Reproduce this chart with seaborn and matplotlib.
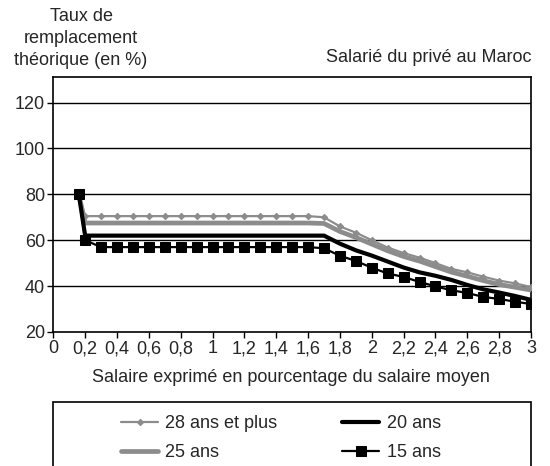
import matplotlib
matplotlib.use("Agg")
import matplotlib.pyplot as plt
import seaborn as sns
import pandas as pd
from matplotlib.patches import Rectangle
from matplotlib.ticker import FixedLocator

x_vals = [0.16, 0.2, 0.3, 0.4, 0.5, 0.6, 0.7, 0.8, 0.9, 1.0, 1.1, 1.2, 1.3, 1.4, 1.5,
          1.6, 1.7, 1.8, 1.9, 2.0, 2.1, 2.2, 2.3, 2.4, 2.5, 2.6, 2.7, 2.8, 2.9, 3.0]

ans28 = [80, 70.5, 70.5, 70.5, 70.5, 70.5, 70.5, 70.5, 70.5, 70.5, 70.5, 70.5, 70.5, 70.5, 70.5,
         70.5, 70.0, 66.0, 63.3, 60.0, 56.8, 54.4, 52.4, 50.0, 47.5, 46.0, 44.1, 42.4, 41.2, 39.6]
ans25 = [80, 67.5, 67.5, 67.5, 67.5, 67.5, 67.5, 67.5, 67.5, 67.5, 67.5, 67.5, 67.5, 67.5, 67.5,
         67.5, 67.3, 63.8, 61.2, 58.3, 55.4, 52.9, 50.9, 48.5, 46.1, 44.3, 42.4, 40.7, 39.5, 38.3]
ans20 = [80, 62.0, 62.0, 62.0, 62.0, 62.0, 62.0, 62.0, 62.0, 62.0, 62.0, 62.0, 62.0, 62.0, 62.0,
         62.0, 62.0, 58.5, 55.6, 53.3, 50.7, 48.1, 46.0, 44.5, 42.7, 40.5, 38.6, 37.2, 35.7, 34.0]
ans15 = [80, 60.0, 57.0, 57.0, 57.0, 57.0, 57.0, 57.0, 57.0, 57.0, 57.0, 57.0, 57.0, 57.0, 57.0,
         57.0, 56.5, 53.2, 51.0, 48.0, 45.5, 44.0, 41.8, 39.9, 38.2, 37.0, 35.3, 34.4, 33.2, 32.2]

labels = ["28 ans et plus", "25 ans", "20 ans", "15 ans"]
x_ticks = [0, 0.2, 0.4, 0.6, 0.8, 1, 1.2, 1.4, 1.6, 1.8, 2, 2.2, 2.4, 2.6, 2.8, 3]
x_tick_labels = ["0", "0,2", "0,4", "0,6", "0,8", "1", "1,2", "1,4", "1,6", "1,8",
                 "2", "2,2", "2,4", "2,6", "2,8", "3"]
y_ticks = [20, 40, 60, 80, 100, 120]

sns.set_theme(style="white")
plt.rcParams['font.family'] = ['Liberation Sans', 'DejaVu Sans']
FS = 13

fig = plt.figure(figsize=(5.5, 4.66), dpi=100)
ax = fig.add_axes([53.3 / 550, 1 - 332 / 466, (531 - 53.3) / 550, (332 - 77.3) / 466])

styles = [
    dict(color="#8c8c8c", lw=1.6, marker="D", ms=3.2, mec="#8c8c8c", mfc="#8c8c8c"),
    dict(color="#8c8c8c", lw=3.4, marker=None),
    dict(color="#000000", lw=3.0, marker=None),
    dict(color="#000000", lw=1.6, marker="s", ms=7, mec="#000000", mfc="#000000"),
]
series = [ans28, ans25, ans20, ans15]
zorders = [3, 3, 4, 5]
for lab, ys, st, z in zip(labels, series, styles, zorders):
    df = pd.DataFrame({"x": x_vals, "y": ys})
    sns.lineplot(data=df, x="x", y="y", ax=ax, sort=False, estimator=None,
                 color=st["color"], lw=st["lw"], marker=st["marker"],
                 markersize=st.get("ms", 0), markeredgecolor=st.get("mec"),
                 markerfacecolor=st.get("mfc"), zorder=z, label=lab)

ax.set_xlim(0, 3)
ax.set_ylim(20, 131)
ax.xaxis.set_major_locator(FixedLocator(x_ticks))
ax.set_xticklabels(x_tick_labels, fontsize=FS)
ax.set_yticks(y_ticks)
ax.set_yticklabels([str(v) for v in y_ticks], fontsize=FS)
ax.tick_params(axis="both", direction="out", length=4, width=1, color="black",
               bottom=True, left=True, pad=2)
for yv in y_ticks[1:]:
    ax.axhline(yv, color="black", lw=1.0, zorder=1)
for sp in ax.spines.values():
    sp.set_color("black")
    sp.set_linewidth(1.2)
ax.set_xlabel("")
ax.set_ylabel("")
h, l = ax.get_legend_handles_labels()
leg = ax.get_legend()
if leg is not None:
    leg.remove()

fig.text(81 / 550, 1 - 8 / 466, "Taux de\nremplacement\nthéorique (en %)",
         ha="center", va="top", fontsize=FS, linespacing=1.38)
fig.text(531 / 550, 1 - 58 / 466, "Salarié du privé au Maroc",
         ha="right", va="center", fontsize=FS)
fig.text(291 / 550, 1 - 378 / 466, "Salaire exprimé en pourcentage du salaire moyen",
         ha="center", va="center", fontsize=FS)

fig.patches.append(Rectangle((52.7 / 550, -0.1), (531 - 52.7) / 550, 0.1 + (466 - 402.3) / 466,
                             transform=fig.transFigure, fill=False, edgecolor="black",
                             lw=1.2, figure=fig))
fig.legend(h, l, loc="upper left", bbox_to_anchor=(121 / 550, 1 - 415 / 466),
           ncol=2, frameon=False, fontsize=FS, handlelength=2.05, handletextpad=0.4,
           columnspacing=3.6, labelspacing=0.66, borderpad=0, borderaxespad=0)

fig.savefig("out.png", dpi=100)
